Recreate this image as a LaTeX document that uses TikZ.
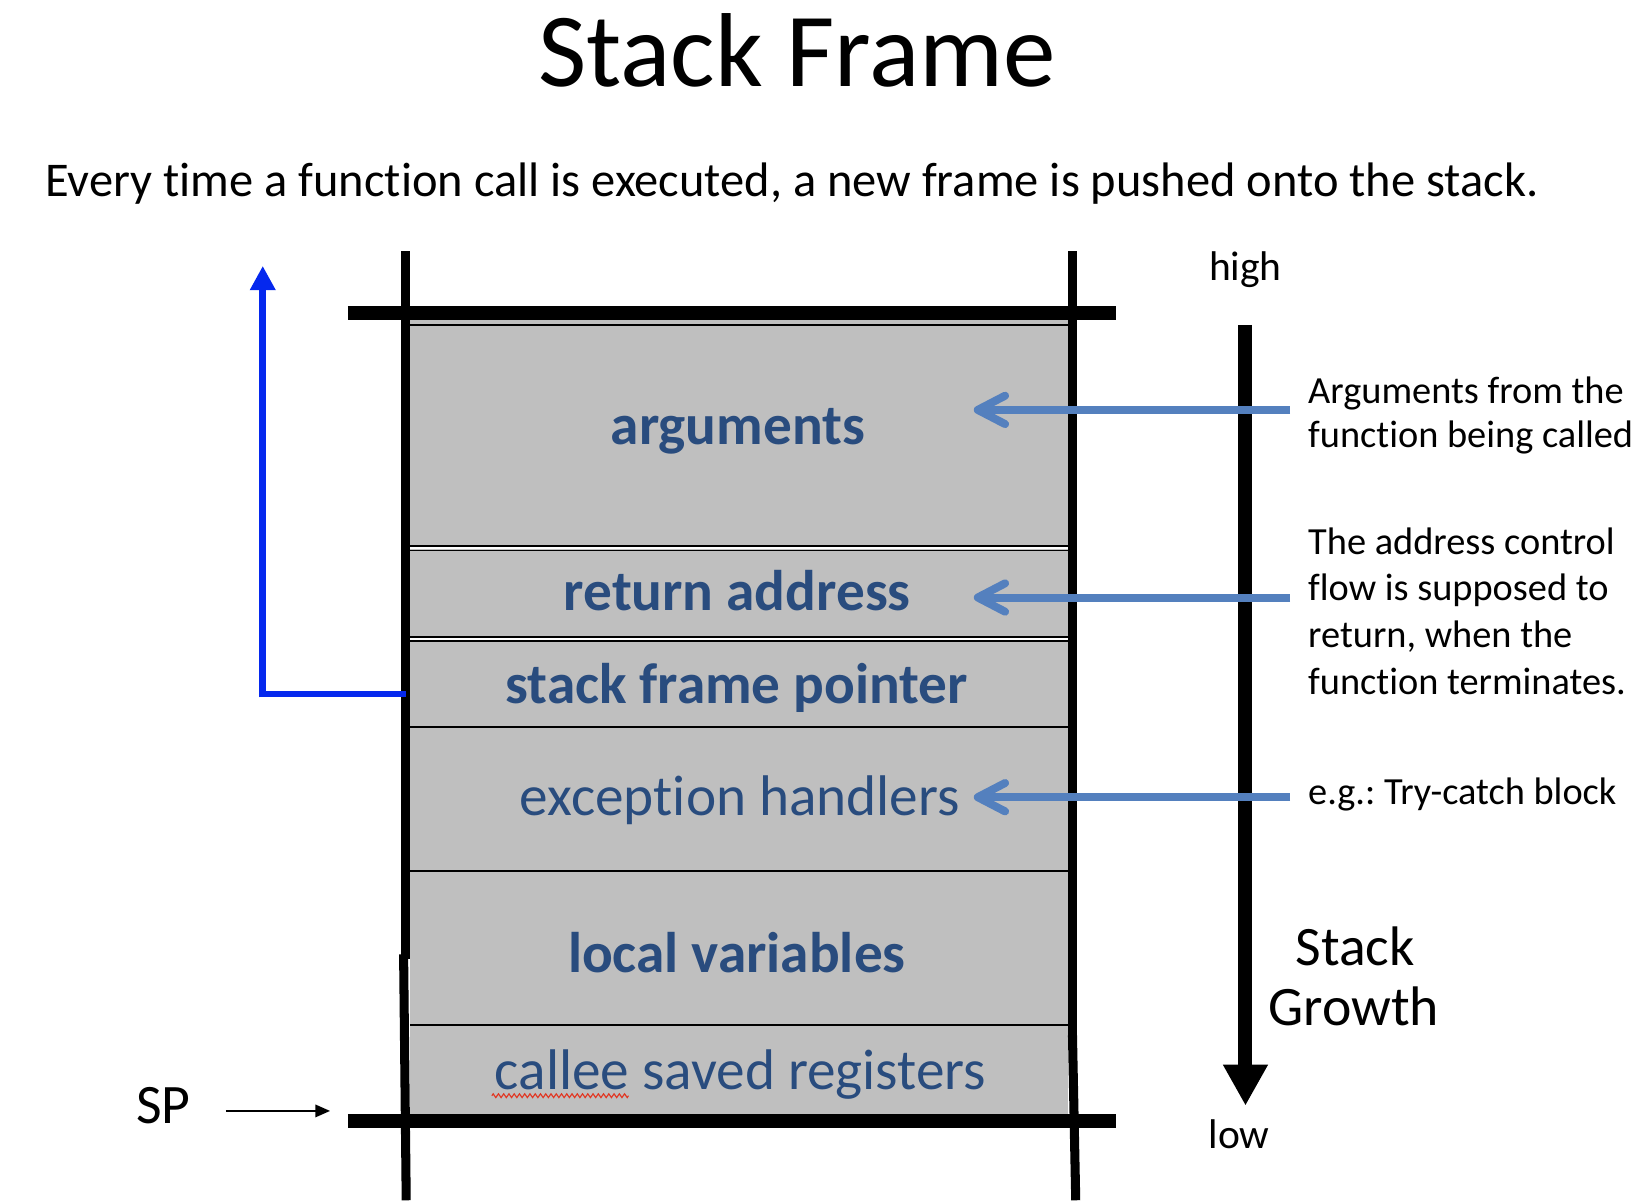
\documentclass[tikz,border=0pt]{standalone}
\usepackage{fontspec}
\setmainfont{Carlito}[Ligatures=NoCommon]
\usetikzlibrary{arrows.meta,decorations.pathmorphing}
\definecolor{lbl}{RGB}{41,76,126}
\definecolor{abl}{RGB}{84,128,190}
\definecolor{lblue}{RGB}{5,40,238}
\definecolor{cellgray}{RGB}{191,191,191}
\definecolor{squig}{RGB}{225,55,35}
\frenchspacing
\begin{document}
\begin{tikzpicture}[x=1pt,y=-1pt,
  celltxt/.style={text=lbl, anchor=base, inner sep=0pt, font=\fontsize{54.5}{60}\selectfont},
  celltxtb/.style={text=lbl, anchor=base, inner sep=0pt, font=\fontsize{54.5}{60}\selectfont\bfseries},
  notetxt/.style={anchor=base west, inner sep=0pt, font=\fontsize{36.5}{44}\selectfont},
  hilotxt/.style={anchor=base, inner sep=0pt, font=\fontsize{39.5}{46}\selectfont},
  growtxt/.style={anchor=base, inner sep=0pt, font=\fontsize{53}{58}\selectfont},
  dividerline/.style={line width=1.8pt},
  wallline/.style={line width=8.6pt},
  barline/.style={line width=13pt},
  barrowline/.style={abl, line width=7.6pt, -{Straight Barb[length=26pt,width=27pt,line width=7.6pt,round]}},
  ]
\useasboundingbox (0,0) rectangle (1568,1142);

% title
\node[anchor=base, inner sep=0pt, font=\fontsize{100}{110}\selectfont] (title) at (758.5,82) {Stack Frame};
\node[anchor=base west, inner sep=0pt, font=\fontsize{46.1}{52}\selectfont] (sub) at (43,187)
  {Every time a function call is executed, a new frame is pushed onto the stack.};

% gray frame body
\fill[cellgray] (390,304) rectangle (1016,1060);
\draw[dividerline] (390,309.5) -- (1016,309.5);
\fill[white] (390,520.8) rectangle (1016,522.8);
\draw[dividerline] (390,519.8) -- (1016,519.8);
\draw[dividerline] (390,523.8) -- (1016,523.8);
\fill[white] (390,607.2) rectangle (1016,609.2);
\draw[dividerline] (390,606.2) -- (1016,606.2);
\draw[dividerline] (390,610.2) -- (1016,610.2);
\draw[dividerline] (390,691.3) -- (1016,691.3);
\draw[dividerline] (390,829) -- (1016,829);
\draw[dividerline] (390,975) -- (1016,975);

% walls and bars
\draw[wallline] (386,239) -- (386,912);
\draw[wallline] (384,908) -- (386.5,1142);
\draw[wallline] (1020.4,239) -- (1020.4,990);
\draw[wallline] (1020.4,985) -- (1023.5,1142);
\draw[barline] (331,297.8) -- (1061.6,297.8);
\draw[barline] (331,1066.7) -- (1061.6,1066.7);

% cell labels
\node[celltxtb] (args) at (702,422.5) {arguments};
\node[celltxtb] (ret) at (701.5,581) {return address};
\node[celltxtb] (sfp) at (701,669.5) {stack frame pointer};
\node[celltxt] (exc) at (704,775.5) {exception handlers};
\node[celltxtb] (loc) at (701,925) {local variables};
\node[celltxt] (cal) at (704.5,1036.5) {callee saved registers};
\draw[squig, line width=1.1pt, decorate, decoration={zigzag, amplitude=1.8pt, segment length=5pt}]
  (468,1042.5) -- (598,1042.5);

% stack growth arrow
\coordinate (gtop) at (1185,309);
\coordinate (gbot) at (1185,1052);
\draw[line width=13.3pt, -{Triangle[length=39pt,width=40pt]}] (gtop) -- (gbot);
\node[hilotxt] (high) at (1185,266.5) {high};
\node[hilotxt] (low) at (1179,1093) {low};
\node[growtxt] (stk) at (1289.5,919) {Stack};
\node[growtxt] (grw) at (1288,975.5) {Growth};

% annotation arrows
\coordinate (s1) at (1227.5,390);   \coordinate (e1) at (926.5,390);
\coordinate (s2) at (1227.5,568.5); \coordinate (e2) at (926.5,568.5);
\coordinate (s3) at (1227.5,758.5); \coordinate (e3) at (926.5,758.5);
\draw[barrowline] (s1) -- (e1);
\draw[barrowline] (s2) -- (e2);
\draw[barrowline] (s3) -- (e3);

% annotations
\node[notetxt] (n1a) at (1244.5,384) {Arguments from the};
\node[notetxt] (n1b) at (1244.5,426) {function being called};
\node[notetxt] (n2a) at (1244.5,527.7) {The address control};
\node[notetxt] (n2b) at (1244.5,571.4) {flow is supposed to};
\node[notetxt] (n2c) at (1244.5,616) {return, when the};
\node[notetxt] (n2d) at (1244.5,661) {function terminates.};
\node[notetxt] (n3) at (1244.5,765) {e.g.: Try-catch block};

% frame pointer link
\coordinate (fpL) at (386,660.6);
\coordinate (fpC) at (250,660.6);
\coordinate (fpB) at (250,663.6);
\coordinate (fpT) at (250,253);
\draw[lblue, line width=5.5pt] (fpL) -- (fpC);
\draw[lblue, line width=7pt, -{Triangle[length=23pt,width=23pt]}] (fpB) -- (fpT);

% SP
\node[anchor=base west, inner sep=0pt, font=\fontsize{53}{60}\selectfont] (sp) at (129.5,1068.5) {SP};
\coordinate (spA) at (215,1057);
\coordinate (spB) at (314,1057);
\draw[line width=1.5pt, -{Triangle[length=14pt,width=12pt]}] (spA) -- (spB);
\end{tikzpicture}
\end{document}
